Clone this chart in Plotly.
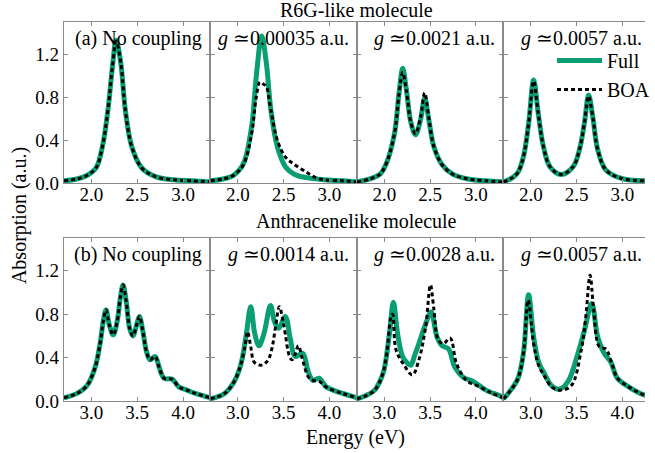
import plotly.graph_objects as go
from plotly.subplots import make_subplots

# ---------------- data ----------------
# Top row: R6G-like molecule, energy in eV
a1_E = [1.70, 1.85, 1.95, 2.05, 2.12, 2.18, 2.23, 2.27, 2.32, 2.37, 2.44, 2.55, 2.70, 2.90, 3.10, 3.30]
a1_full = [0.02, 0.04, 0.07, 0.14, 0.34, 0.68, 1.09, 1.33, 1.12, 0.68, 0.34, 0.14, 0.06, 0.03, 0.02, 0.01]
a1_boa = [0.02, 0.04, 0.07, 0.14, 0.34, 0.68, 1.09, 1.32, 1.12, 0.68, 0.34, 0.14, 0.06, 0.03, 0.02, 0.01]

a2_E_full = [1.70, 1.85, 1.95, 2.06, 2.15, 2.20, 2.26, 2.31, 2.36, 2.43, 2.52, 2.62, 2.75, 2.95, 3.15, 3.30]
a2_full = [0.02, 0.04, 0.07, 0.18, 0.53, 0.99, 1.37, 1.12, 0.68, 0.34, 0.15, 0.08, 0.05, 0.03, 0.02, 0.01]
a2_E_boa = [1.70, 1.85, 1.95, 2.06, 2.15, 2.20, 2.24, 2.28, 2.31, 2.36, 2.43, 2.52, 2.62, 2.75, 2.85, 2.95, 3.15, 3.30]
a2_boa = [0.02, 0.04, 0.07, 0.17, 0.46, 0.80, 0.94, 0.92, 0.90, 0.68, 0.40, 0.24, 0.17, 0.10, 0.05, 0.03, 0.02, 0.01]

a3_E = [1.70, 1.85, 1.95, 2.02, 2.11, 2.16, 2.20, 2.24, 2.29, 2.34, 2.395, 2.44, 2.485, 2.54, 2.63, 2.75, 2.90, 3.10, 3.30]
a3_full = [0.01, 0.04, 0.08, 0.18, 0.46, 0.84, 1.07, 0.87, 0.56, 0.45, 0.59, 0.79, 0.59, 0.34, 0.17, 0.08, 0.04, 0.02, 0.01]
a3_boa = [0.01, 0.04, 0.08, 0.18, 0.46, 0.83, 1.03, 0.86, 0.56, 0.46, 0.61, 0.84, 0.61, 0.34, 0.17, 0.08, 0.04, 0.02, 0.01]

a4_E = [1.70, 1.80, 1.86, 1.92, 1.976, 2.03, 2.08, 2.137, 2.21, 2.33, 2.46, 2.53, 2.585, 2.63, 2.675, 2.73, 2.82, 3.00, 3.30]
a4_full = [0.01, 0.05, 0.10, 0.25, 0.56, 0.96, 0.65, 0.34, 0.15, 0.08, 0.15, 0.31, 0.56, 0.82, 0.62, 0.31, 0.12, 0.04, 0.02]
a4_boa = [0.01, 0.05, 0.10, 0.25, 0.56, 0.95, 0.65, 0.34, 0.15, 0.08, 0.15, 0.31, 0.56, 0.81, 0.62, 0.31, 0.12, 0.04, 0.02]

# Bottom row: Anthracenelike molecule
b1_E = [2.70, 2.843, 2.95, 3.04, 3.094, 3.13, 3.159, 3.195, 3.238, 3.28, 3.317, 3.345, 3.381, 3.417, 3.453,
        3.496, 3.524, 3.56, 3.603, 3.64, 3.696, 3.74, 3.793, 3.883, 3.954, 4.044, 4.134, 4.30]
b1_full = [0.03, 0.07, 0.14, 0.31, 0.53, 0.74, 0.84, 0.70, 0.61, 0.73, 0.96, 1.07, 0.91, 0.67, 0.60,
           0.71, 0.78, 0.65, 0.45, 0.38, 0.41, 0.31, 0.21, 0.20, 0.13, 0.10, 0.07, 0.03]
b1_boa = b1_full[:]

b2_E_full = [2.70, 2.854, 2.96, 3.033, 3.087, 3.14, 3.184, 3.23, 3.284, 3.356, 3.40, 3.445, 3.517, 3.571,
             3.625, 3.707, 3.768, 3.82, 3.886, 3.965, 4.144, 4.30]
b2_full = [0.02, 0.07, 0.18, 0.34, 0.59, 0.87, 0.62, 0.51, 0.62, 0.88, 0.73, 0.67, 0.78, 0.58,
           0.41, 0.44, 0.27, 0.19, 0.21, 0.13, 0.07, 0.03]
b2_E_boa = [2.70, 2.854, 2.96, 3.033, 3.08, 3.105, 3.14, 3.177, 3.248, 3.30, 3.338, 3.38, 3.41, 3.453, 3.49,
            3.517, 3.56, 3.59, 3.62, 3.66, 3.70, 3.77, 3.82, 3.89, 3.96, 4.14, 4.30]
b2_boa = [0.02, 0.07, 0.18, 0.34, 0.52, 0.64, 0.50, 0.36, 0.33, 0.35, 0.39, 0.52, 0.68, 0.87, 0.75,
          0.62, 0.42, 0.38, 0.42, 0.51, 0.40, 0.22, 0.19, 0.18, 0.13, 0.07, 0.03]

b3_E_full = [2.70, 2.80, 2.894, 2.97, 3.00, 3.055, 3.098, 3.144, 3.198, 3.25, 3.288, 3.33, 3.377, 3.45, 3.51,
             3.575, 3.63, 3.70, 3.77, 3.86, 3.97, 4.11, 4.256, 4.30]
b3_full = [0.02, 0.05, 0.10, 0.22, 0.30, 0.62, 0.91, 0.62, 0.41, 0.35, 0.33, 0.42, 0.53, 0.71, 0.82,
           0.59, 0.51, 0.48, 0.31, 0.22, 0.18, 0.10, 0.05, 0.03]
b3_E_boa = [2.70, 2.80, 2.894, 2.97, 3.02, 3.073, 3.09, 3.127, 3.216, 3.306, 3.377, 3.45, 3.503, 3.54, 3.59,
            3.646, 3.718, 3.79, 3.897, 4.04, 4.18, 4.30]
b3_boa = [0.02, 0.05, 0.10, 0.22, 0.40, 0.78, 0.80, 0.47, 0.33, 0.24, 0.38, 0.68, 1.07, 0.85, 0.56,
          0.53, 0.58, 0.34, 0.19, 0.13, 0.07, 0.03]

b4_E_full = [2.70, 2.78, 2.86, 2.92, 2.975, 3.03, 3.084, 3.155, 3.227, 3.316, 3.406, 3.514, 3.585, 3.664,
             3.73, 3.80, 3.872, 3.944, 4.05, 4.195, 4.30]
b4_full = [0.02, 0.10, 0.21, 0.45, 0.98, 0.59, 0.36, 0.24, 0.14, 0.11, 0.18, 0.44, 0.65, 0.90,
           0.59, 0.44, 0.36, 0.21, 0.14, 0.07, 0.04]
b4_E_boa = [2.70, 2.78, 2.86, 2.92, 2.97, 3.03, 3.084, 3.155, 3.227, 3.316, 3.44, 3.55, 3.60, 3.646,
            3.686, 3.747, 3.818, 3.89, 3.944, 4.05, 4.195, 4.30]
b4_boa = [0.02, 0.10, 0.21, 0.45, 0.93, 0.53, 0.33, 0.22, 0.13, 0.10, 0.14, 0.47, 0.78, 1.16,
          0.84, 0.50, 0.48, 0.33, 0.21, 0.14, 0.07, 0.04]

panel_labels = ["(a) No coupling", "<i>g</i> ≃0.00035 a.u.", "<i>g</i> ≃0.0021 a.u.", "<i>g</i> ≃0.0057 a.u.",
                "(b) No coupling", "<i>g</i> ≃0.0014 a.u.", "<i>g</i> ≃0.0028 a.u.", "<i>g</i> ≃0.0057 a.u."]
top_ticks = [2.0, 2.5, 3.0]
bottom_ticks = [3.0, 3.5, 4.0]
y_ticks = [0.0, 0.4, 0.8, 1.2]
series_names = ["Full", "BOA"]
row_titles = ["R6G-like molecule", "Anthracenelike molecule"]

panels = [
    (a1_E, a1_full, a1_E, a1_boa),
    (a2_E_full, a2_full, a2_E_boa, a2_boa),
    (a3_E, a3_full, a3_E, a3_boa),
    (a4_E, a4_full, a4_E, a4_boa),
    (b1_E, b1_full, b1_E, b1_boa),
    (b2_E_full, b2_full, b2_E_boa, b2_boa),
    (b3_E_full, b3_full, b3_E_boa, b3_boa),
    (b4_E_full, b4_full, b4_E_boa, b4_boa),
]

# ---------------- figure ----------------
# The right-most panel is cut at the window edge (as in the reference).
W, H = 655, 453
ML, MR, MT, MB = 64, 0, 22, 52
FONT = "Liberation Serif"
FS = 19
FT = 20
GREEN = "#0a9e73"
AXC = "#8a8a8a"

fig = make_subplots(rows=2, cols=4)

col_dom = [(0.0, 0.2521), (0.2521, 0.5042), (0.5042, 0.7563), (0.7563, 1.0)]
row_dom = [(0.5752, 1.0), (0.0, 0.4293)]

for i, (ef, vf, eb, vb) in enumerate(panels):
    r, c = i // 4 + 1, i % 4 + 1
    fig.add_trace(go.Scatter(x=ef, y=vf, mode="lines", line=dict(color=GREEN, width=5, shape="spline"),
                             name=series_names[0], showlegend=(i == 3), legendrank=1), row=r, col=c)
    fig.add_trace(go.Scatter(x=eb, y=vb, mode="lines",
                             line=dict(color="black", width=3, dash="4px,3px", shape="spline"),
                             name=series_names[1], showlegend=(i == 3), legendrank=2), row=r, col=c)

for i in range(8):
    r, c = i // 4 + 1, i % 4 + 1
    lo = 1.7 if r == 1 else 2.7
    hi = lo + (1.6 if c < 4 else 1.546)
    fig.update_xaxes(row=r, col=c, domain=list(col_dom[c - 1]), range=[lo, hi],
                     tickvals=top_ticks if r == 1 else bottom_ticks, tickformat=".1f",
                     showline=True, linecolor=AXC, linewidth=1.3, mirror="ticks",
                     ticks="inside", ticklen=4, tickcolor=AXC, showgrid=False, zeroline=False,
                     ticklabelstandoff=-6,
                     tickfont=dict(family=FONT, size=FS, color="black"))
    fig.update_yaxes(row=r, col=c, domain=list(row_dom[r - 1]), range=[0, 1.5],
                     tickvals=y_ticks, tickformat=".1f", showticklabels=(c == 1),
                     showline=True, linecolor=AXC, linewidth=1.3, mirror=("ticks" if c < 4 else False),
                     ticks="inside", ticklen=4, tickcolor=AXC, showgrid=False, zeroline=False,
                     tickfont=dict(family=FONT, size=FS, color="black"))
    sfx = "" if i == 0 else str(i + 1)
    fig.add_annotation(text=panel_labels[i], xref=f"x{sfx} domain", yref=f"y{sfx} domain",
                       x=1, y=1, xanchor="right", yanchor="top", xshift=(-6 if c < 4 else -1), yshift=-3,
                       showarrow=False, font=dict(family=FONT, size=FT, color="black"))

fig.add_annotation(text=row_titles[0], xref="paper", yref="paper", x=0.504, y=1.0317,
                   xanchor="center", yanchor="middle", showarrow=False,
                   font=dict(family=FONT, size=FT, color="black"))
fig.add_annotation(text=row_titles[1], xref="paper", yref="paper", x=0.504, y=0.475,
                   xanchor="center", yanchor="middle", showarrow=False,
                   font=dict(family=FONT, size=FT, color="black"))
fig.add_annotation(text="Energy (eV)", xref="paper", yref="paper", x=0.501, y=-0.095,
                   xanchor="center", yanchor="middle", showarrow=False,
                   font=dict(family=FONT, size=FT, color="black"))
fig.add_annotation(text="Absorption (a.u.)", xref="paper", yref="paper", x=-0.0778, y=0.49,
                   xanchor="center", yanchor="middle", textangle=-90, showarrow=False,
                   font=dict(family=FONT, size=FT, color="black"))

fig.update_layout(
    width=W, height=H, autosize=False,
    margin=dict(l=ML, r=MR, t=MT, b=MB),
    paper_bgcolor="white", plot_bgcolor="white",
    legend=dict(x=0.840, y=0.95, xanchor="left", yanchor="top", bgcolor="rgba(0,0,0,0)",
                font=dict(family=FONT, size=FT, color="black"), itemwidth=45, traceorder="normal"),
)

fig.write_html("out.html", config={"displayModeBar": False, "responsive": False},
               post_script="document.body.style.margin='0';document.body.style.overflow='hidden';")
